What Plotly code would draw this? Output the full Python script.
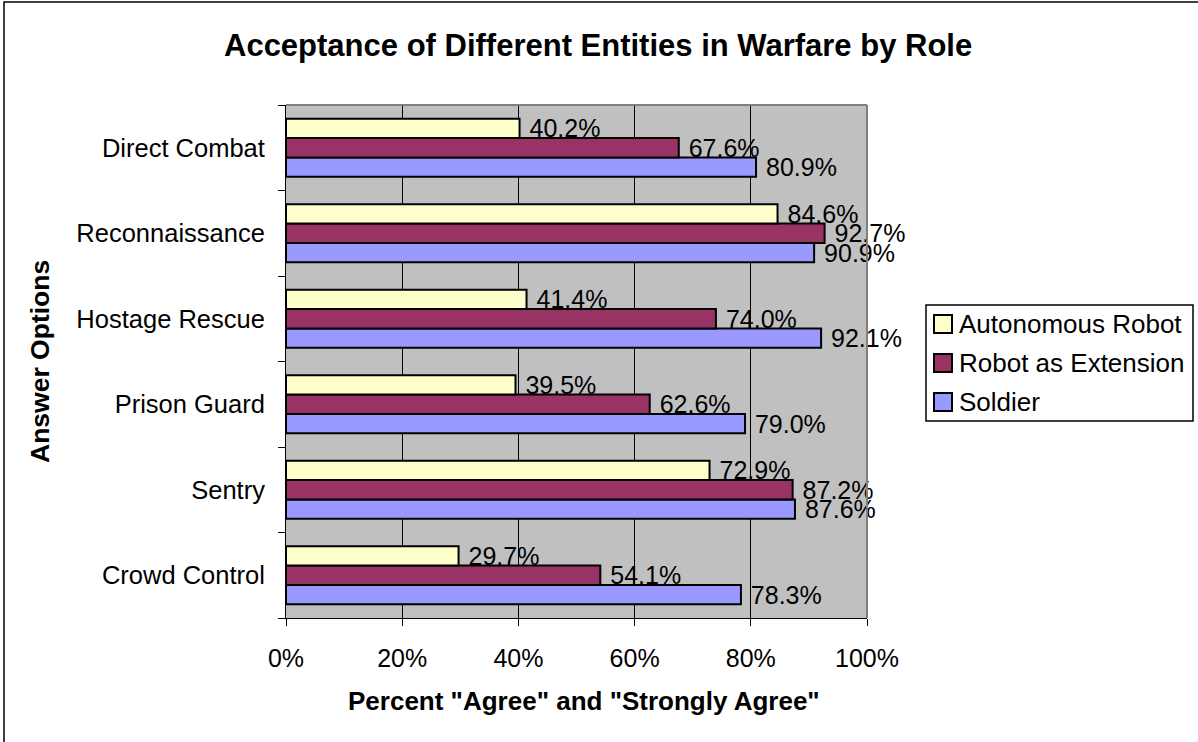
import plotly.graph_objects as go

categories = ["Crowd Control", "Sentry", "Prison Guard", "Hostage Rescue", "Reconnaissance", "Direct Combat"]
soldier = [0.783, 0.876, 0.790, 0.921, 0.909, 0.809]
robot_extension = [0.541, 0.872, 0.626, 0.740, 0.927, 0.676]
autonomous_robot = [0.297, 0.729, 0.395, 0.414, 0.846, 0.402]
x_ticks = [0, 0.2, 0.4, 0.6, 0.8, 1.0]

FONT = "Liberation Sans, Arial, sans-serif"
W, H = 1198, 742
L, R, T, B = 286, 331, 105, 124
PW, PH = W - L - R, H - T - B


def px(x):
    return (x - L) / PW


def py(y):
    return (H - B - y) / PH


series = [
    ("Soldier", soldier, "#9999FF"),
    ("Robot as Extension", robot_extension, "#993366"),
    ("Autonomous Robot", autonomous_robot, "#FFFFCC"),
]

fig = go.Figure()
for name, vals, color in series:
    fig.add_trace(go.Bar(
        name=name, y=categories, x=vals, orientation="h",
        marker=dict(color=color, line=dict(color="black", width=2)),
        text=[" " + f"{v * 100:.1f}%" for v in vals], textposition="outside",
        textfont=dict(family=FONT, size=25, color="black"),
        cliponaxis=False, constraintext="none", showlegend=False,
    ))

shapes = [
    dict(type="line", xref="paper", yref="paper", x0=0, x1=1, y0=1, y1=1,
         line=dict(color="#808080", width=2)),
    dict(type="line", xref="paper", yref="paper", x0=1, x1=1, y0=0, y1=1,
         line=dict(color="#808080", width=2)),
    dict(type="rect", xref="paper", yref="paper", x0=px(4), x1=px(1260), y0=py(800), y1=py(2),
         line=dict(color="black", width=1.5), layer="above"),
    # legend box
    dict(type="rect", xref="paper", yref="paper", x0=px(926), x1=px(1193), y0=py(421), y1=py(305),
         line=dict(color="black", width=1.5), fillcolor="white", layer="above"),
]
annotations = [
    dict(text="<b>Acceptance of Different Entities in Warfare by Role</b>",
         xref="paper", yref="paper", x=px(598), y=py(45), xanchor="center", yanchor="middle",
         showarrow=False, font=dict(family=FONT, size=31, color="black")),
    dict(text="<b>Percent \"Agree\" and \"Strongly Agree\"</b>",
         xref="paper", yref="paper", x=px(584), y=py(701), xanchor="center", yanchor="middle",
         showarrow=False, font=dict(family=FONT, size=26, color="black")),
    dict(text="<b>Answer Options</b>", textangle=-90,
         xref="paper", yref="paper", x=px(40), y=py(362), xanchor="center", yanchor="middle",
         showarrow=False, font=dict(family=FONT, size=26.5, color="black")),
]

# manual legend entries (reference order: top to bottom)
legend_rows = [(324, series[2]), (363, series[1]), (402, series[0])]
for yc, (name, _, color) in legend_rows:
    shapes.append(dict(type="rect", xref="paper", yref="paper",
                       x0=px(934), x1=px(952), y0=py(yc + 9), y1=py(yc - 9),
                       line=dict(color="black", width=2), fillcolor=color, layer="above"))
    annotations.append(dict(text=name, xref="paper", yref="paper", x=px(957), y=py(yc),
                            xanchor="left", yanchor="middle", showarrow=False,
                            font=dict(family=FONT, size=26, color="black")))

fig.update_layout(
    width=W, height=H,
    margin=dict(l=L, r=R, t=T, b=B, autoexpand=False),
    paper_bgcolor="white", plot_bgcolor="#C0C0C0",
    barmode="group", bargap=0.32, bargroupgap=0,
    font=dict(family=FONT, size=25, color="black"),
    showlegend=False,
    xaxis=dict(
        range=[0, 1], tickvals=x_ticks, tickformat=".0%",
        ticks="outside", ticklen=7, tickcolor="black",
        showline=True, linecolor="black", linewidth=1,
        showgrid=True, gridcolor="black", gridwidth=1,
        zeroline=False, ticklabelstandoff=11,
        tickfont=dict(family=FONT, size=25),
    ),
    yaxis=dict(
        type="category", categoryorder="array", categoryarray=categories,
        ticks="outside", ticklen=7, tickcolor="black", tickson="boundaries",
        showline=True, linecolor="black", linewidth=1,
        showgrid=False, zeroline=False, ticklabelstandoff=15,
        tickfont=dict(family=FONT, size=25.5),
    ),
    shapes=shapes,
    annotations=annotations,
)

fig.write_html("out.html", config={"displayModeBar": False},
               post_script="document.body.style.margin='0';")
